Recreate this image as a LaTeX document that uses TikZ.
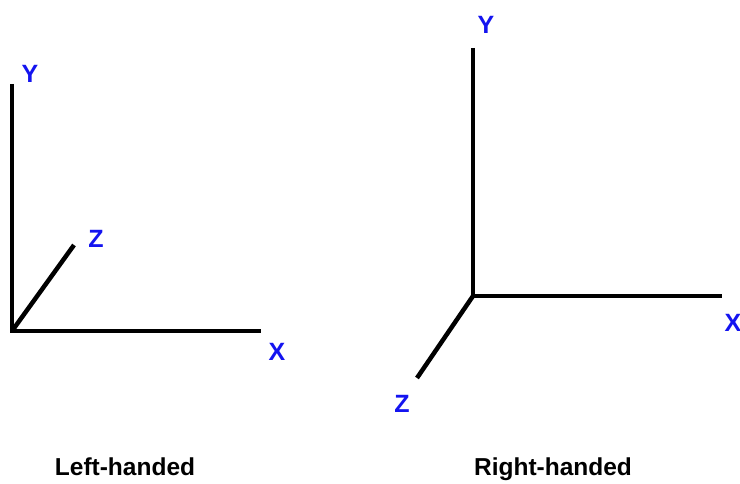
\documentclass[tikz,border=0pt]{standalone}
\usepackage{fontspec}
\setmainfont{Liberation Sans}
\usepackage{xcolor}
\usepackage{tikz}
\usetikzlibrary{calc, positioning}

\definecolor{axisblue}{RGB}{20,20,240}
\tikzset{
    axisline/.style={line width=4.5pt, black},
    axislabel/.style={text=axisblue, font=\fontsize{25}{27}\selectfont\bfseries, inner sep=0pt},
    caption/.style={text=black, font=\fontsize{24.5}{27}\selectfont\bfseries, inner sep=0pt}
}

\begin{document}
\begin{tikzpicture}[x=1pt, y=-1pt]
    \useasboundingbox (0,0) rectangle (740,484);

    % 1. Hệ trục bên trái
    \coordinate (oL) at (12,331);
    \coordinate (yL) at (12,84);
    \coordinate (xL) at (261,331);
    \coordinate (zL) at (74,245);
    \draw[axisline] (yL) -- (oL) -- (xL);
    \draw[axisline] (oL) -- (zL);
    \node[axislabel] (labYL) at (30,74) {Y};
    \node[axislabel] (labZL) at (96,239) {Z};
    \node[axislabel] (labXL) at (277,352) {X};
    \node[caption] (capL) at (125,467) {Left-handed};

    % 2. Hệ trục bên phải
    \coordinate (oR) at (473,296);
    \coordinate (yR) at (473,48);
    \coordinate (xR) at (722,296);
    \coordinate (zR) at (417,378);
    \draw[axisline] (yR) -- (oR) -- (xR);
    \draw[axisline] (oR) -- (zR);
    \node[axislabel] (labYR) at (486,25) {Y};
    \node[axislabel] (labXR) at (733,323) {X};
    \node[axislabel] (labZR) at (402,404) {Z};
    \node[caption] (capR) at (553,469) {Right-handed};

\end{tikzpicture}
\end{document}
